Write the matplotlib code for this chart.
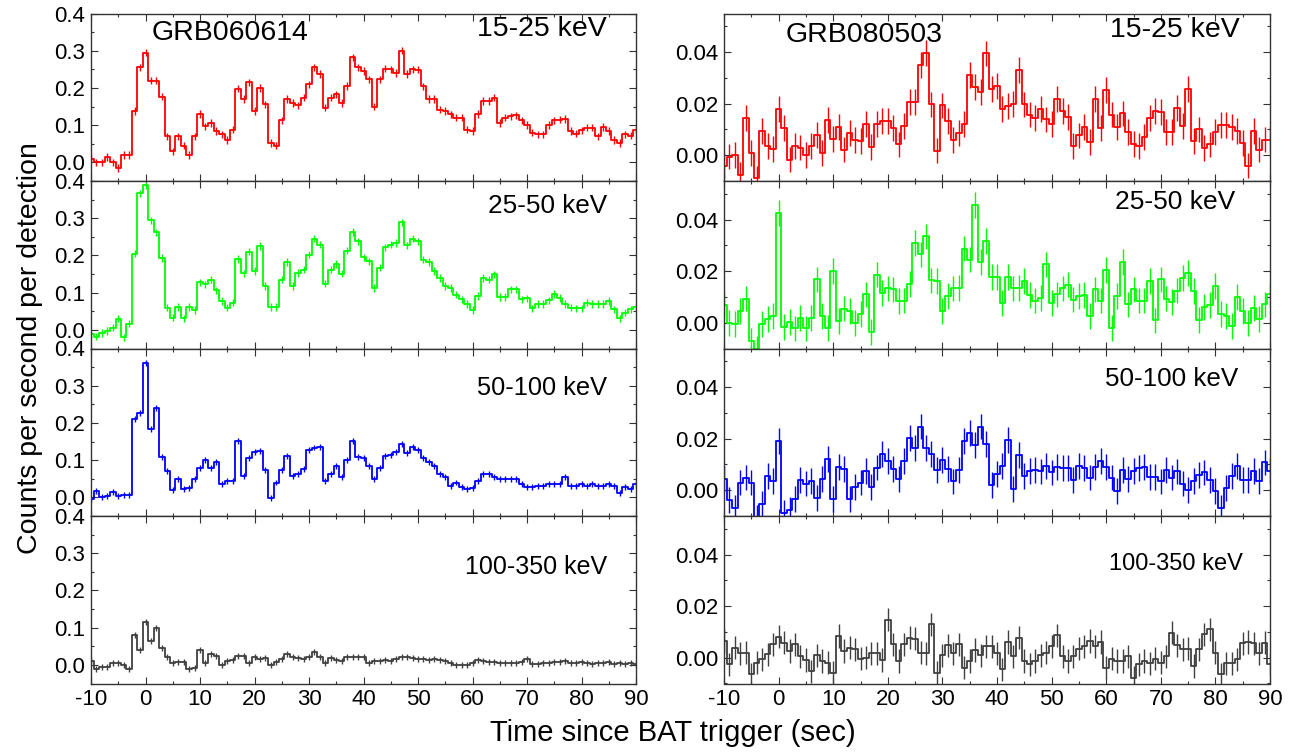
import numpy as np
import matplotlib
matplotlib.use('Agg')
import matplotlib.pyplot as plt
from matplotlib.ticker import MultipleLocator, FormatStrFormatter

plt.rcParams['font.family'] = ['Liberation Sans', 'DejaVu Sans']
plt.rcParams['axes.unicode_minus'] = False

# bin centres (s), 1 s bins
time_sec = np.arange(-10, 91)

bands = ['15-25 keV', '25-50 keV', '50-100 keV', '100-350 keV']
colors = ['#ff0000', '#00ff00', '#0000ff', '#404040']

# GRB060614
grb1_15_25 = [0.01, 0.0, 0.0, 0.015, 0.0, -0.015, 0.02, 0.02, 0.138, 0.255,
              0.295, 0.22, 0.22, 0.177, 0.07, 0.03, 0.07, 0.045, 0.02, 0.07,
              0.13, 0.097, 0.106, 0.084, 0.075, 0.06, 0.088, 0.198, 0.17, 0.215,
              0.138, 0.2, 0.156, 0.052, 0.045, 0.113, 0.17, 0.16, 0.153, 0.174,
              0.21, 0.255, 0.237, 0.147, 0.174, 0.183, 0.16, 0.205, 0.282, 0.255,
              0.246, 0.223, 0.15, 0.223, 0.252, 0.25, 0.24, 0.30, 0.237, 0.25,
              0.249, 0.204, 0.17, 0.17, 0.142, 0.138, 0.129, 0.12, 0.12, 0.088,
              0.084, 0.13, 0.165, 0.165, 0.174, 0.106, 0.12, 0.124, 0.126, 0.113,
              0.10, 0.08, 0.075, 0.075, 0.10, 0.113, 0.115, 0.117, 0.084, 0.077,
              0.086, 0.093, 0.093, 0.07, 0.095, 0.084, 0.06, 0.052, 0.075, 0.072,
              0.088]
grb1_25_50 = [-0.012, -0.018, -0.008, -0.003, 0.006, 0.03, -0.02, 0.017, 0.205, 0.367,
              0.388, 0.294, 0.262, 0.193, 0.06, 0.033, 0.062, 0.031, 0.061, 0.053,
              0.128, 0.122, 0.135, 0.106, 0.078, 0.06, 0.073, 0.19, 0.152, 0.21,
              0.158, 0.225, 0.118, 0.061, 0.061, 0.135, 0.182, 0.118, 0.153, 0.162,
              0.202, 0.245, 0.229, 0.124, 0.162, 0.177, 0.151, 0.213, 0.263, 0.238,
              0.195, 0.184, 0.113, 0.167, 0.222, 0.229, 0.234, 0.289, 0.227, 0.245,
              0.238, 0.189, 0.182, 0.158, 0.14, 0.118, 0.113, 0.095, 0.082, 0.069,
              0.053, 0.091, 0.14, 0.135, 0.149, 0.088, 0.088, 0.109, 0.109, 0.082,
              0.085, 0.058, 0.069, 0.069, 0.079, 0.097, 0.086, 0.069, 0.06, 0.058,
              0.058, 0.073, 0.069, 0.069, 0.069, 0.078, 0.055, 0.031, 0.046, 0.055,
              0.061]
grb1_50_100 = [-0.005, 0.018, 0.002, 0.004, 0.015, 0.004, 0.007, 0.007, 0.21, 0.228,
               0.36, 0.183, 0.24, 0.109, 0.07, 0.02, 0.05, 0.022, 0.025, 0.049,
               0.08, 0.1, 0.08, 0.094, 0.036, 0.045, 0.045, 0.152, 0.058, 0.107,
               0.123, 0.125, 0.073, -0.002, 0.04, 0.073, 0.11, 0.058, 0.062, 0.076,
               0.127, 0.134, 0.136, 0.043, 0.062, 0.085, 0.054, 0.1, 0.152, 0.109,
               0.107, 0.085, 0.049, 0.08, 0.112, 0.114, 0.123, 0.143, 0.12, 0.136,
               0.127, 0.107, 0.094, 0.085, 0.062, 0.054, 0.031, 0.04, 0.029, 0.022,
               0.025, 0.045, 0.062, 0.062, 0.056, 0.049, 0.049, 0.049, 0.049, 0.036,
               0.027, 0.027, 0.031, 0.031, 0.036, 0.037, 0.037, 0.054, 0.031, 0.031,
               0.036, 0.031, 0.037, 0.031, 0.031, 0.036, 0.031, 0.013, 0.027, 0.022,
               0.036]
grb1_100_350 = [0.01, -0.01, -0.005, -0.005, 0.005, 0.005, 0.0, -0.01, 0.08, 0.04,
                0.115, 0.065, 0.098, 0.045, 0.02, 0.005, 0.008, 0.008, -0.01, -0.008,
                0.04, 0.005, 0.03, 0.025, 0.0, 0.01, 0.012, 0.025, 0.025, 0.005,
                0.022, 0.015, 0.018, 0.0, 0.008, 0.015, 0.028, 0.022, 0.018, 0.015,
                0.022, 0.035, 0.02, 0.005, 0.018, 0.012, 0.01, 0.02, 0.022, 0.022,
                0.022, 0.005, 0.01, 0.01, 0.012, 0.01, 0.015, 0.02, 0.022, 0.018,
                0.015, 0.015, 0.012, 0.015, 0.012, 0.01, 0.005, 0.0, 0.0, 0.0,
                0.005, 0.012, 0.01, 0.008, 0.008, 0.005, 0.005, 0.005, 0.005, 0.008,
                0.015, 0.002, 0.002, 0.005, 0.005, 0.008, 0.008, 0.01, 0.005, 0.005,
                0.008, 0.005, 0.002, 0.005, 0.005, 0.008, 0.002, 0.005, 0.003, 0.005,
                0.003]
grb1_err = [0.010, 0.010, 0.008, 0.008]

# GRB080503
grb2_15_25 = [-0.004, -0.0005, 0.0, -0.0075, 0.0145, 0.001, -0.009, 0.0094, 0.0035, 0.0025,
              0.018, 0.0105, -0.0017, 0.0035, 0.003, 0.0, 0.0035, 0.008, 0.001, 0.0136,
              0.0064, 0.011, 0.0022, 0.0087, 0.006, 0.0055, 0.012, 0.0032, 0.012, 0.0133,
              0.0133, 0.0106, 0.0042, 0.0113, 0.0206, 0.0206, 0.035, 0.0396, 0.0197, 0.0018,
              0.0193, 0.0133, 0.0058, 0.0087, 0.012, 0.031, 0.0266, 0.0245, 0.0395, 0.0258,
              0.0269, 0.018, 0.019, 0.02, 0.033, 0.0197, 0.0158, 0.0145, 0.0178, 0.0139,
              0.012, 0.0217, 0.0171, 0.0149, 0.0035, 0.0077, 0.011, 0.0051, 0.0217, 0.0106,
              0.0253, 0.0158, 0.011, 0.0162, 0.009, 0.0045, 0.0035, 0.007, 0.0145, 0.0171,
              0.0168, 0.009, 0.009, 0.0184, 0.0113, 0.0256, 0.0055, 0.01, 0.0029, 0.0042,
              0.009, 0.0116, 0.0116, 0.011, 0.0094, 0.0048, -0.004, 0.0094, 0.0022, 0.0061,
              0.0061]
grb2_25_50 = [0.0068, 0.0, -0.0004, 0.0045, 0.0094, -0.0071, -0.0103, -0.0006, 0.0013, 0.0026,
              0.0426, -0.0017, 0.0003, -0.0022, 0.0017, -0.0022, 0.0019, 0.0168, 0.0026, -0.0019,
              0.02, 0.0006, 0.0055, 0.0045, 0.0, 0.0035, 0.011, -0.0035, 0.0187, 0.0116,
              0.0133, 0.0129, 0.0084, 0.0086, 0.0151, 0.031, 0.0265, 0.0335, 0.0164, 0.0161,
              0.0045, 0.0103, 0.0133, 0.0135, 0.0288, 0.0245, 0.0458, 0.0236, 0.0316, 0.0177,
              0.0177, 0.0077, 0.0177, 0.0133, 0.0135, 0.0161, 0.0107, 0.0086, 0.0097, 0.0226,
              0.0077, 0.011, 0.0133, 0.0148, 0.009, 0.0103, 0.0107, 0.0026, 0.0129, 0.0086,
              0.0206, -0.0019, 0.0103, 0.0236, 0.0071, 0.0129, 0.0086, 0.0086, 0.0161, 0.0009,
              0.0168, 0.0094, 0.0081, 0.0125, 0.0174, 0.0194, 0.0123, 0.001, 0.0061, 0.0068,
              0.0142, 0.0035, 0.0026, -0.0013, 0.0099, 0.0045, 0.0, 0.0058, 0.0013, 0.0071,
              0.011]
grb2_50_100 = [0.0043, -0.0039, -0.0068, 0.003, 0.0049, 0.003, -0.0106, -0.0052, 0.0056, 0.0036,
               0.0192, -0.0087, -0.0078, -0.0035, 0.0039, 0.0026, 0.0036, -0.0031, 0.0043, 0.0121,
               -0.0035, 0.0091, 0.0082, -0.0035, 0.0013, 0.003, 0.0075, 0.0013, 0.0088, 0.014,
               0.0112, 0.0082, 0.0043, 0.0114, 0.0203, 0.0164, 0.0247, 0.0164, 0.014, 0.0078,
               0.0117, 0.0082, 0.0034, 0.0078, 0.019, 0.0221, 0.0177, 0.0247, 0.0179, 0.0021,
               0.0062, 0.0095, 0.0195, 0.0004, 0.0138, 0.0056, 0.0075, 0.0078, 0.0073, 0.0095,
               0.0069, 0.0091, 0.0086, 0.0086, 0.0039, 0.0095, 0.0086, 0.0049, 0.0091, 0.0112,
               0.0091, 0.0049, -0.0003, 0.0078, 0.0043, 0.0075, 0.0086, 0.0091, 0.0052, 0.0052,
               0.0034, 0.0078, 0.0049, 0.0073, 0.0026, 0.0, 0.0036, 0.006, 0.0069, 0.0039,
               -0.0003, -0.007, 0.001, 0.0056, 0.0095, 0.0039, 0.0039, 0.0075, 0.0036, 0.0108,
               0.0075]
grb2_100_350 = [0.0065, -0.0026, 0.0039, 0.0017, 0.0019, -0.0065, -0.0019, -0.0006, 0.0013, 0.0052,
                0.0082, 0.0058, 0.0026, 0.0052, 0.0006, -0.0009, -0.0052, 0.0009, -0.0013, -0.0019,
                -0.0058, 0.0084, 0.0026, 0.0039, 0.0032, -0.0004, 0.0, 0.0017, 0.0017, -0.0009,
                0.0147, 0.0052, -0.0013, 0.0052, 0.0078, 0.0074, 0.0019, 0.0017, 0.013, -0.0058,
                0.0009, 0.0048, 0.0017, 0.0052, -0.0039, -0.0013, 0.003, 0.0009, 0.0045, 0.0045,
                0.0017, -0.0045, 0.0061, 0.0006, 0.0078, -0.0013, -0.0026, -0.0013, 0.0009, 0.0019,
                0.0045, 0.0087, 0.0006, -0.0013, 0.0006, 0.0035, 0.0045, 0.0065, 0.0045, 0.0061,
                -0.0039, -0.0004, -0.0013, -0.0013, 0.0006, -0.0078, -0.0026, -0.0013, -0.0022, -0.0004,
                -0.0019, 0.0006, 0.0097, 0.0048, 0.0032, 0.0035, -0.0032, 0.0032, 0.0091, 0.011,
                0.0019, -0.0065, -0.0022, -0.0022, -0.0006, 0.0056, 0.0061, 0.0056, 0.0017, 0.0058,
                -0.0026]
grb2_err = [0.005, 0.005, 0.005, 0.0045]

columns = [
    dict(name='GRB060614', series=[grb1_15_25, grb1_25_50, grb1_50_100, grb1_100_350],
         errs=grb1_err, ylim=(-0.05, 0.4), ymaj=0.1, ymin=0.05, yfmt='%.1f',
         lab_x=[0.947, 0.947, 0.947, 0.947], lab_y=[0.907, 0.853, 0.764, 0.693],
         lab_size=[20.5, 18.8, 18.3, 18], name_x=0.255, name_y=0.884),
    dict(name='GRB080503', series=[grb2_15_25, grb2_25_50, grb2_50_100, grb2_100_350],
         errs=grb2_err, ylim=(-0.01, 0.055), ymaj=0.02, ymin=0.01, yfmt='%.2f',
         lab_x=[0.945, 0.936, 0.941, 0.951], lab_y=[0.90, 0.875, 0.818, 0.713],
         lab_size=[20.5, 19, 18.7, 17], name_x=0.256, name_y=0.872),
]

W, H = 1298, 752
fig = plt.figure(figsize=(W / 100, H / 100), dpi=100)

col_left = [91, 724]
col_width = [545, 546]
top_px = 13.5
panel_h = 167.5

for c, col in enumerate(columns):
    for r in range(4):
        bottom = 1 - (top_px + panel_h * (r + 1)) / H
        ax = fig.add_axes([col_left[c] / W, bottom, col_width[c] / W, panel_h / H])
        vals = np.array(col['series'][r])
        ax.step(time_sec, vals, where='mid', color=colors[r], lw=1.3)
        ax.errorbar(time_sec, vals, yerr=col['errs'][r], fmt='none', ecolor=colors[r],
                    elinewidth=1.0, capsize=0)
        ax.set_xlim(-10, 90)
        ax.set_ylim(*col['ylim'])
        ax.xaxis.set_major_locator(MultipleLocator(10))
        ax.xaxis.set_minor_locator(MultipleLocator(5))
        ax.yaxis.set_major_locator(MultipleLocator(col['ymaj']))
        ax.yaxis.set_minor_locator(MultipleLocator(col['ymin']))
        ax.yaxis.set_major_formatter(FormatStrFormatter(col['yfmt']))
        ax.tick_params(which='both', direction='in', top=True, right=True,
                       labelsize=16, width=0.8, colors='#333333', labelcolor='black')
        ax.tick_params(which='major', length=5, pad=4)
        ax.tick_params(which='minor', length=2.5)
        for sp in ax.spines.values():
            sp.set_linewidth(1.0)
            sp.set_color('#333333')
        if r < 3:
            ax.tick_params(labelbottom=False)
        ax.text(col['lab_x'][r], col['lab_y'][r], bands[r], transform=ax.transAxes,
                ha='right', va='center', fontsize=col['lab_size'][r])
        if r == 0:
            ax.text(col['name_x'], col['name_y'], col['name'], transform=ax.transAxes,
                    ha='center', va='center', fontsize=20.5)

fig.text(30 / W, 1 - 348.5 / H, 'Counts per second per detection',
         rotation=90, ha='center', va='center', fontsize=20.5)
fig.text(673 / W, 1 - 733 / H, 'Time since BAT trigger (sec)',
         ha='center', va='center', fontsize=21)

fig.savefig('out.png', dpi=100)
